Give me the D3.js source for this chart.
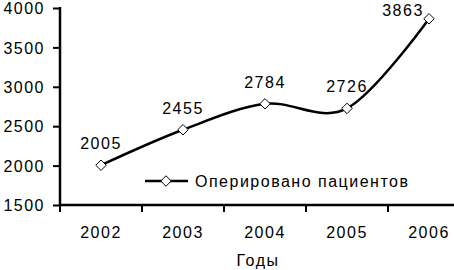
<!DOCTYPE html>
<html>
<head>
<meta charset="utf-8">
<script src="https://cdn.jsdelivr.net/npm/d3@7"></script>
<style>
  body { margin: 0; background: #fff; }
  text { font-family: "Liberation Sans", Arial, sans-serif; font-size: 16px; fill: #000; letter-spacing: 1.5px; }
</style>
</head>
<body>
<script>
// chart data
const years = ['2002', '2003', '2004', '2005', '2006'];
const patients = [2005, 2455, 2784, 2726, 3863];
const yTicks = [1500, 2000, 2500, 3000, 3500, 4000];
const seriesName = 'Оперировано пациентов';
const xTitle = 'Годы';

const w = 454, h = 270;

const svg = d3.select('body')
    .append('svg')
    .attr('width', w)
    .attr('height', h);

// plot area runs past the right edge, as in the original
const x = d3.scaleBand().domain(years).range([60, 470]);
const y = d3.scaleLinear().domain([1500, 4000]).range([205, 8]);

// y axis
const yAxis = svg.append('g')
    .attr('transform', 'translate(60,0)')
    .call(d3.axisLeft(y).tickValues(yTicks).tickSize(7).tickPadding(8).tickFormat(d3.format('d')));

// x axis
const xAxis = svg.append('g')
    .attr('transform', 'translate(0,205)')
    .call(d3.axisBottom(x).tickSize(0).tickPadding(22));

// tick marks between categories
xAxis.selectAll('.divider')
    .data(years)
    .enter()
    .append('line')
    .attr('x1', d => x(d))
    .attr('x2', d => x(d))
    .attr('y1', 0)
    .attr('y2', 7)
    .attr('stroke', '#000')
    .attr('stroke-width', 2);

[yAxis, xAxis].forEach(g => {
    g.select('.domain').attr('stroke-width', 2.5);
    g.selectAll('.tick line').attr('stroke-width', 2);
    g.selectAll('text').style('font-size', '16px').style('font-family', '"Liberation Sans", Arial, sans-serif');
});
yAxis.select('.domain').attr('d', 'M-0,' + (y(4000) - 1) + 'H0V206');
xAxis.select('.domain').attr('d', 'M59,0H470');
yAxis.selectAll('.tick text').attr('dy', '0.36em');

// smoothed line
const line = d3.line()
    .x((d, i) => x(years[i]) + x.bandwidth() / 2)
    .y(d => y(d))
    .curve(d3.curveCatmullRom.alpha(0));

svg.append('path')
    .datum(patients)
    .attr('d', line)
    .attr('fill', 'none')
    .attr('stroke', '#000')
    .attr('stroke-width', 2.5);

// diamond markers
const diamond = d3.symbol().type(d3.symbolDiamond2).size(70);

svg.selectAll('.marker')
    .data(patients)
    .enter()
    .append('path')
    .attr('class', 'marker')
    .attr('d', diamond)
    .attr('transform', (d, i) => `translate(${x(years[i]) + x.bandwidth() / 2},${y(d)})`)
    .attr('fill', '#fff')
    .attr('stroke', '#000')
    .attr('stroke-width', 1);

// value labels, kept inside the visible area
svg.selectAll('.value')
    .data(patients)
    .enter()
    .append('text')
    .attr('class', 'value')
    .attr('x', (d, i) => Math.min(x(years[i]) + x.bandwidth() / 2, 403))
    .attr('y', d => Math.max(y(d) - 22, 10))
    .attr('dy', '0.36em')
    .attr('text-anchor', 'middle')
    .text(d => d);

// legend
const legend = svg.append('g').attr('transform', 'translate(145,181)');
legend.append('line')
    .attr('x1', 0).attr('x2', 43)
    .attr('stroke', '#000').attr('stroke-width', 2.5);
legend.append('path')
    .attr('d', diamond)
    .attr('transform', 'translate(21,0)')
    .attr('fill', '#fff').attr('stroke', '#000');
legend.append('text')
    .attr('x', 50)
    .attr('dy', '0.36em')
    .text(seriesName);

// axis title
svg.append('text')
    .attr('x', 258)
    .attr('y', 260)
    .attr('dy', '0.36em')
    .attr('text-anchor', 'middle')
    .text(xTitle);
</script>
</body>
</html>
